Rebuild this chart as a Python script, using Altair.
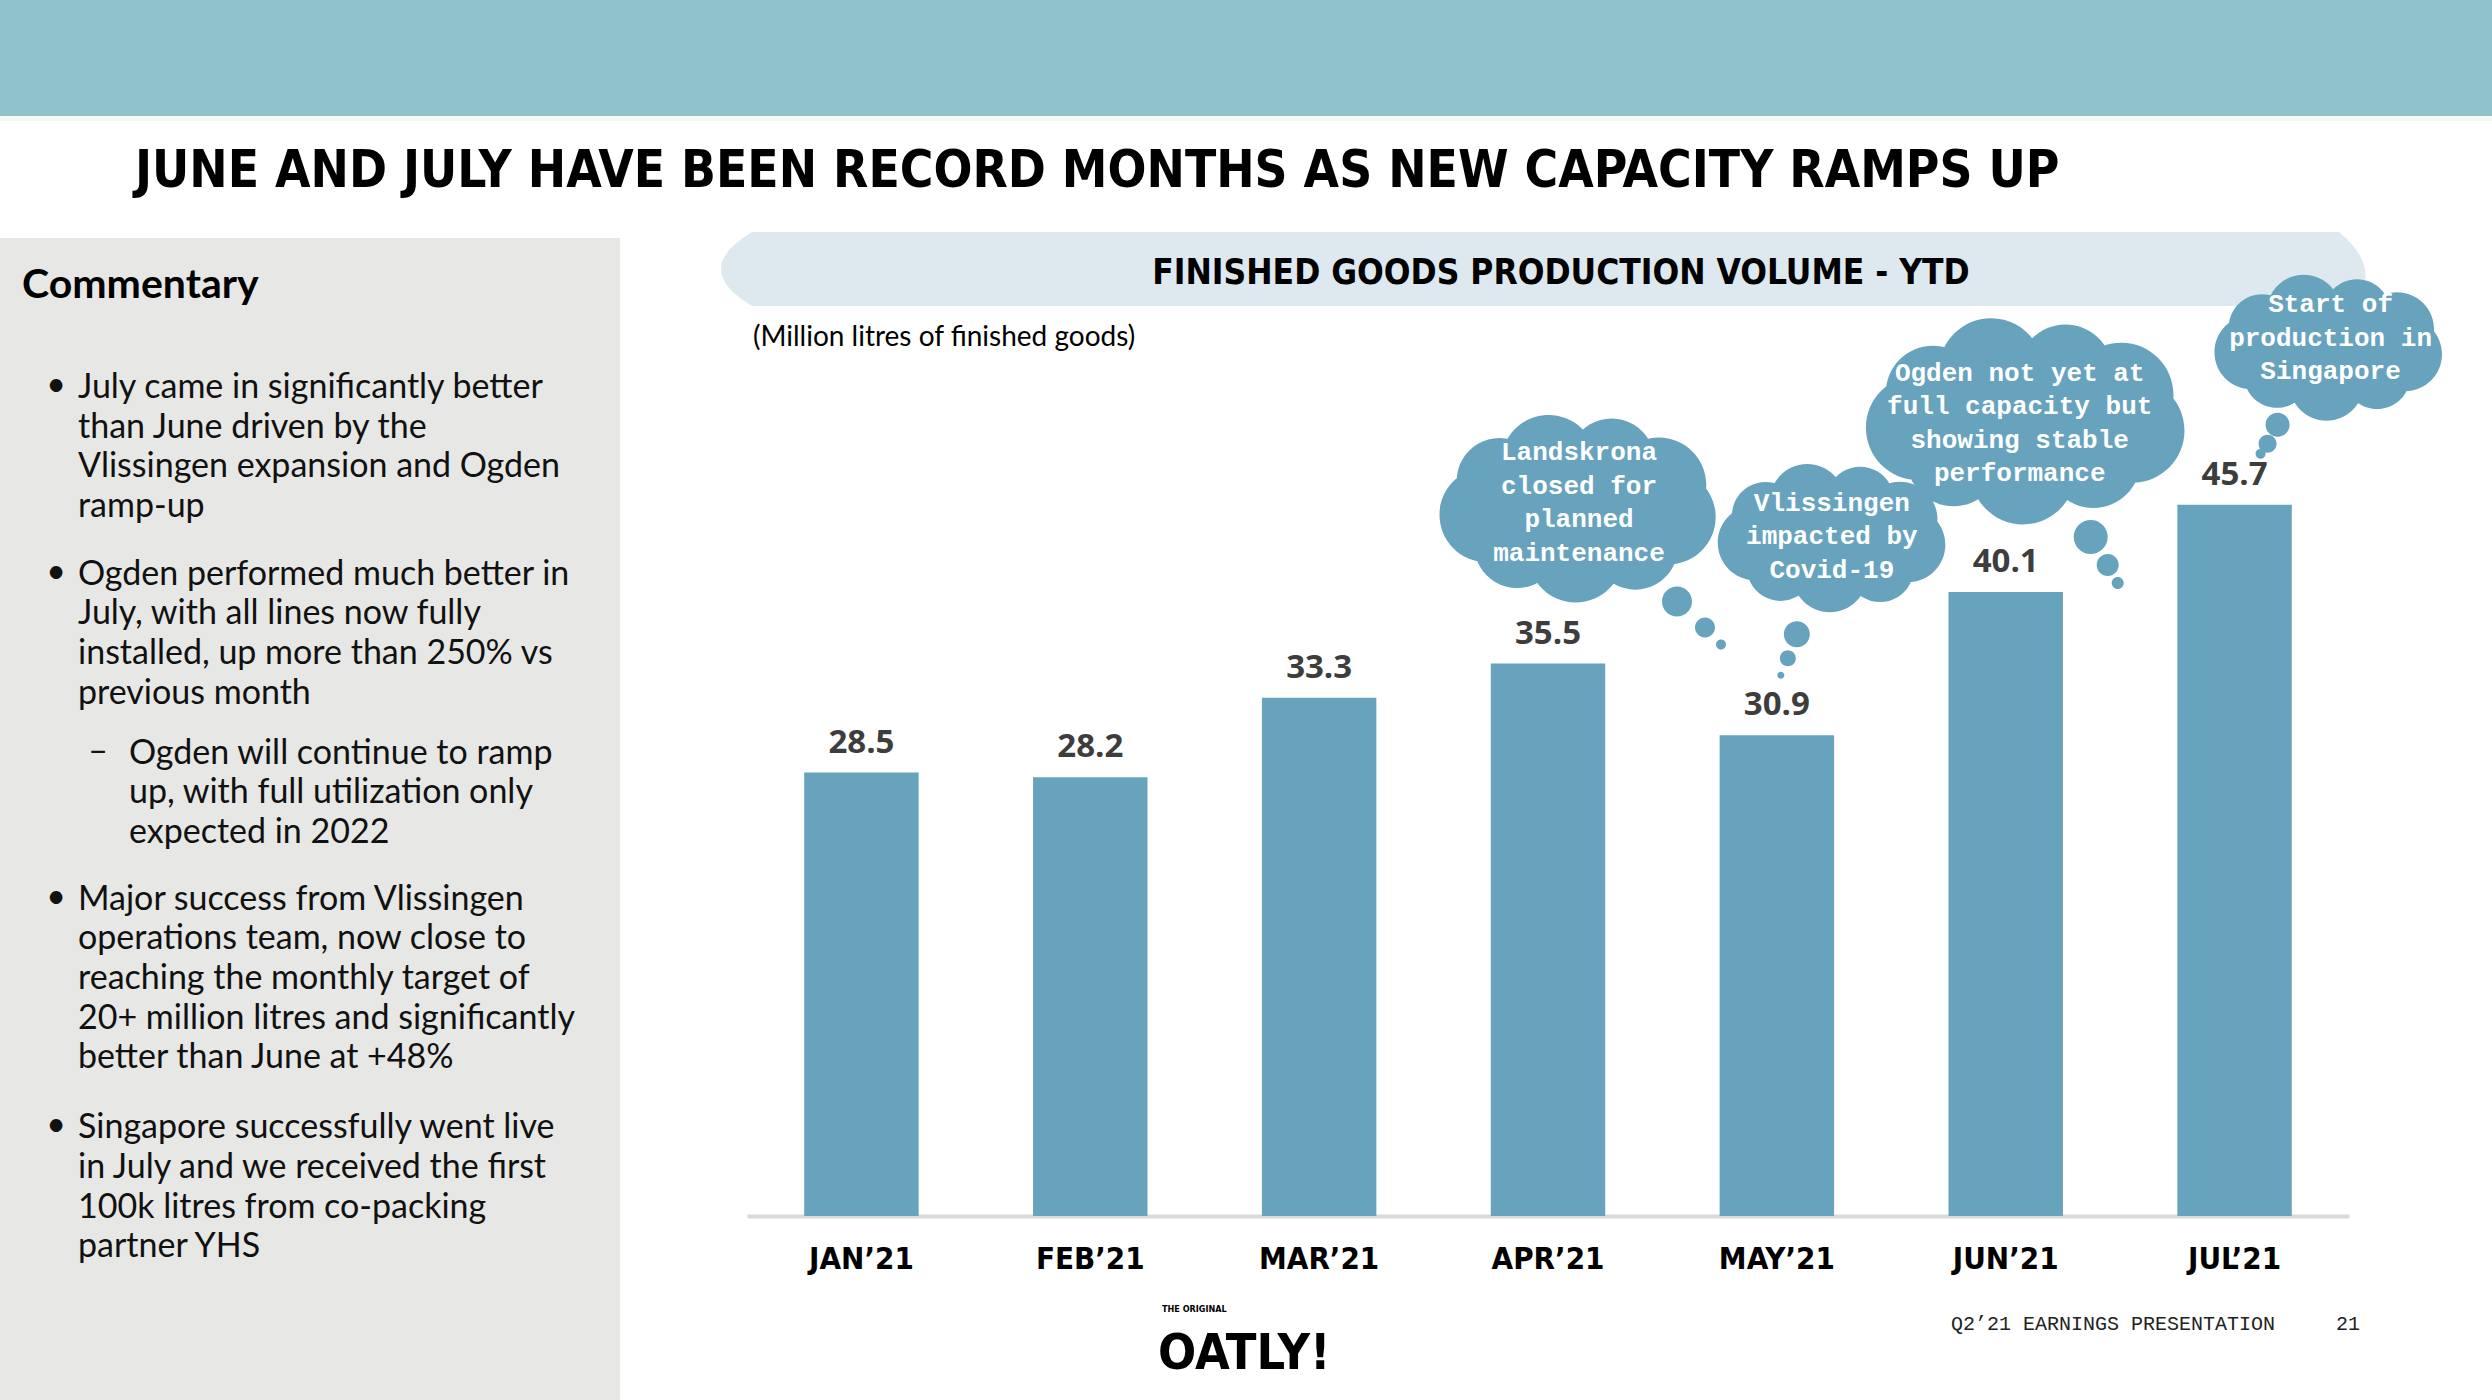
import math
import altair as alt
import pandas as pd

# ---------------- data ----------------
months = ["JAN’21", "FEB’21", "MAR’21", "APR’21", "MAY’21", "JUN’21", "JUL’21"]
volumes = [28.5, 28.2, 33.3, 35.5, 30.9, 40.1, 45.7]

note_months = ["APR’21", "MAY’21", "JUN’21", "JUL’21"]
note_texts = [
    "Landskrona\nclosed for\nplanned\nmaintenance",
    "Vlissingen\nimpacted by\nCovid-19",
    "Ogden not yet at\nfull capacity but\nshowing stable\nperformance",
    "Start of\nproduction in\nSingapore",
]

title_text = "JUNE AND JULY HAVE BEEN RECORD MONTHS AS NEW CAPACITY RAMPS UP"
chart_title = "FINISHED GOODS PRODUCTION VOLUME - YTD"
unit_note = "(Million litres of finished goods)"
commentary_head = "Commentary"
commentary = [
    ("bullet", ["July  came in significantly better", "than June driven by the",
                "Vlissingen expansion and Ogden", "ramp-up"]),
    ("bullet", ["Ogden performed much better in", "July, with all lines now fully",
                "installed, up more than 250% vs", "previous month"]),
    ("dash", ["Ogden will continue to ramp", "up, with full utilization only",
              "expected in 2022"]),
    ("bullet", ["Major success from Vlissingen", "operations team, now close to",
                "reaching the monthly target of", "20+ million litres and significantly",
                "better than June at +48%"]),
    ("bullet", ["Singapore successfully went live", "in July and we received the first",
                "100k litres from co-packing", "partner YHS"]),
]
footer_text = "Q2’21 EARNINGS PRESENTATION"
page_no = "21"
logo_small = "THE ORIGINAL"
logo_big = "OATLY!"

# ---------------- layout / style ----------------
L, T = 747, 238          # plot origin on the page
W, H = 1602, 978         # plot size
YMAX = 62.85
BAR = "#67a3bd"
HEAVY = '"DejaVu Sans Condensed", "Roboto", sans-serif'
MONO = '"Liberation Mono", "DejaVu Sans Mono", monospace'
BODY = "Lato"
CLOUD_LH = 33.5


def X(px):
    return px - L


def Y(py):
    return py - T


def circle(cx, cy, r):
    return (f"M{cx + r:.1f},{cy:.1f}A{r:.1f},{r:.1f} 0 1 1 {cx - r:.1f},{cy:.1f}"
            f"A{r:.1f},{r:.1f} 0 1 1 {cx + r:.1f},{cy:.1f}Z")


def ellipse(cx, cy, rx, ry):
    return (f"M{cx + rx:.1f},{cy:.1f}A{rx:.1f},{ry:.1f} 0 1 1 {cx - rx:.1f},{cy:.1f}"
            f"A{rx:.1f},{ry:.1f} 0 1 1 {cx + rx:.1f},{cy:.1f}Z")


def cloud_path(w, h, bubbles):
    rb = 0.25 * h
    a, b = w / 2 - rb, h / 2 - rb
    parts = [ellipse(0, 0, a + rb * 0.35, b + rb * 0.35)]
    per = 2 * math.pi * math.sqrt((a * a + b * b) / 2)
    n = max(9, round(per / (1.25 * rb)))
    for i in range(n):
        t = 2 * math.pi * i / n + 0.2
        r = rb * (1.0 if i % 2 == 0 else 0.9)
        parts.append(circle(a * math.cos(t), b * math.sin(t), r))
    for bx, by, br in bubbles:
        parts.append(circle(bx, by, br))
    return " ".join(parts)


# cloud styles: (dx, dy, w, h, bubbles, text dx, text-block dy)
cloud_style = {
    "APR’21": (30, -156, 279, 190, [(99, 94, 15), (127, 120, 10), (143, 137, 5)], 1, -5),
    "MAY’21": (55, -198, 230, 150, [(-35, 97, 13), (-44, 121, 8), (-51, 138, 3.5)], 0, -1),
    "JUN’21": (20, -172, 322, 209, [(65, 117, 17), (82, 145, 11), (92, 163, 6)], -6, 3),
    "JUL’21": (94, -158, 230, 148, [(-51, 78, 12), (-61, 97, 9), (-68, 107, 5)], 2, -9),
}

df = pd.DataFrame({"month": months, "value": volumes})
df["label"] = df["value"].map(lambda v: f"{v:.1f}")
notes = pd.DataFrame({"month": note_months, "note": note_texts}).merge(df, on="month")

one = pd.DataFrame({"k": [0]})

xenc = alt.X("month:N", sort=months, title=None,
             scale=alt.Scale(paddingInner=0.5, paddingOuter=0.25))
yenc = alt.Y("value:Q", axis=None, scale=alt.Scale(domain=[0, YMAX], nice=False))

layers = []

# backgrounds
layers.append(alt.Chart(one).mark_rect(color="#8fc3c9").encode(
    x=alt.value(X(0)), x2=alt.value(X(2492)), y=alt.value(Y(0)), y2=alt.value(Y(116))))
layers.append(alt.Chart(one).mark_rect(color="#f4f7f6").encode(
    x=alt.value(X(0)), x2=alt.value(X(2492)), y=alt.value(Y(116)), y2=alt.value(Y(121))))
layers.append(alt.Chart(one).mark_rect(color="#e7e7e5").encode(
    x=alt.value(X(0)), x2=alt.value(X(620)), y=alt.value(Y(238)), y2=alt.value(Y(1400))))
banner = "M-788,-37 L799,-37 Q844,0 813,37 L-788,37 Q-850,0 -788,-37 Z"
layers.append(alt.Chart(one).mark_point(shape=banner, size=4, filled=True, opacity=1,
                                        color="#dde9ee", strokeWidth=0).encode(
    x=alt.value(X(1540)), y=alt.value(Y(269))))

# titles
layers.append(alt.Chart(one).mark_text(text=title_text, align="left", baseline="middle",
                                       font=HEAVY, fontWeight="bold", fontSize=51,
                                       color="#000000").encode(
    x=alt.value(X(135)), y=alt.value(Y(172))))
layers.append(alt.Chart(one).mark_text(text=chart_title, align="center", baseline="middle",
                                       font=HEAVY, fontWeight="bold", fontSize=35,
                                       color="#000000").encode(
    x=alt.value(X(1561)), y=alt.value(Y(273))))
layers.append(alt.Chart(one).mark_text(text=unit_note, align="left", baseline="middle",
                                       font=BODY, fontSize=28, color="#000000").encode(
    x=alt.value(X(753)), y=alt.value(Y(338))))

# commentary panel
layers.append(alt.Chart(one).mark_text(text=commentary_head, align="left", baseline="middle",
                                       font=BODY, fontWeight="bold", fontSize=41,
                                       color="#000000").encode(
    x=alt.value(X(22)), y=alt.value(Y(286))))
LH = 39.7
gaps = [0, 28, 20, 27, 30]
yline = 388
for (kind, lines), gap in zip(commentary, gaps):
    yline += gap
    n = len(lines)
    tx, mx, marker = (78, 56, "•") if kind == "bullet" else (129, 98, "–")
    layers.append(alt.Chart(one).mark_text(text=lines, align="left", baseline="middle",
                                           lineHeight=LH, font=BODY, fontSize=34,
                                           color="#111111").encode(
        x=alt.value(X(tx)), y=alt.value(Y(yline))))
    layers.append(alt.Chart(one).mark_text(text=marker, align="center", baseline="middle",
                                           font=BODY, fontSize=34, color="#111111").encode(
        x=alt.value(X(mx)), y=alt.value(Y(yline - 2))))
    yline += n * LH

# bars and labels
layers.append(alt.Chart(df).mark_bar(color=BAR).encode(x=xenc, y=yenc))
layers.append(alt.Chart(df).mark_text(dy=-30, baseline="middle", font="Open Sans",
                                      fontWeight="bold", fontSize=33, color="#3d3d3d").encode(
    x=xenc, y=yenc, text="label:N"))

# thought clouds
for m, txt in zip(note_months, note_texts):
    dx, dy, w, h, bubbles, tdx, tdy = cloud_style[m]
    nlines = len(txt.split("\n"))
    first = tdy - (nlines - 1) * CLOUD_LH / 2
    sub = notes[notes["month"] == m]
    layers.append(alt.Chart(sub).mark_point(shape=cloud_path(w, h, bubbles), size=4,
                                            filled=True, opacity=1, color=BAR,
                                            strokeWidth=0, xOffset=dx, yOffset=dy).encode(
        x=xenc, y=yenc))
    layers.append(alt.Chart(sub).mark_text(lineBreak="\n", lineHeight=CLOUD_LH, font=MONO,
                                           fontWeight="bold", fontSize=26, color="#ffffff",
                                           align="center", baseline="middle",
                                           xOffset=dx + tdx, yOffset=dy + first).encode(
        x=xenc, y=yenc, text="note:N"))

# footer
layers.append(alt.Chart(one).mark_text(text=logo_small, align="left", baseline="middle",
                                       font=HEAVY, fontWeight="bold", fontSize=9,
                                       color="#000000").encode(
    x=alt.value(X(1162)), y=alt.value(Y(1309))))
layers.append(alt.Chart(one).mark_text(text=logo_big, align="left", baseline="middle",
                                       font=HEAVY, fontWeight="bold", fontSize=50,
                                       color="#000000").encode(
    x=alt.value(X(1158)), y=alt.value(Y(1354))))
layers.append(alt.Chart(one).mark_text(text=footer_text, align="left", baseline="middle",
                                       font=MONO, fontSize=20, color="#222222").encode(
    x=alt.value(X(1951)), y=alt.value(Y(1324))))
layers.append(alt.Chart(one).mark_text(text=page_no, align="right", baseline="middle",
                                       font=MONO, fontSize=20, color="#222222").encode(
    x=alt.value(X(2360)), y=alt.value(Y(1324))))

chart = alt.layer(*layers).properties(
    width=W, height=H,
    padding={"left": L, "top": T, "right": 2492 - L - W, "bottom": 1400 - T - H},
    autosize=alt.AutoSizeParams(type="none"),
    background="#ffffff",
).configure_view(stroke=None).configure_axisX(
    labelFont=HEAVY, labelFontSize=31, labelFontWeight="bold", labelColor="#000000",
    labelAngle=0, labelPadding=28, ticks=False, domainColor="#d9d9d9", domainWidth=4,
    grid=False,
)

chart.save("out.html", embed_options={"renderer": "svg", "actions": False})
